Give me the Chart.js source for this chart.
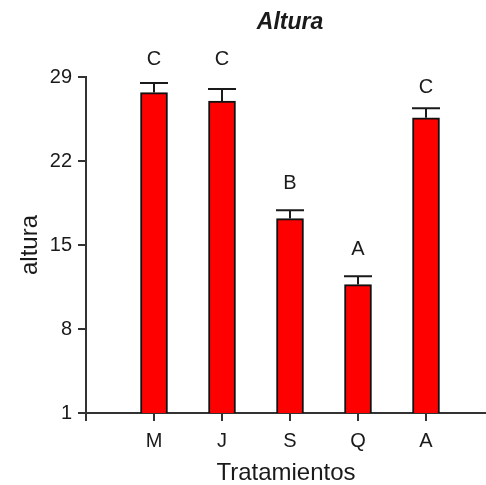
<!DOCTYPE html>
<html>
<head>
<meta charset="utf-8">
<script src="https://cdn.jsdelivr.net/npm/chart.js@4/dist/chart.umd.min.js"></script>
<style>
  body { margin: 0; background: #fff; }
  #wrap { width: 486px; height: 485px; }
</style>
</head>
<body>
<div id="wrap"><canvas id="chart" width="486" height="485"></canvas></div>
<script>
const categories = ['M', 'J', 'S', 'Q', 'A'];
const means = [27.7, 27.0, 17.2, 11.7, 25.6];
const errors = [0.8, 1.0, 0.7, 0.7, 0.8];
const groups = ['C', 'C', 'B', 'A', 'C'];
const groupLevels = [30.45, 30.45, 20.15, 14.65, 28.15];
const yTicks = [1, 8, 15, 22, 29];

const FONT = "'Liberation Sans', Arial, sans-serif";
const INK = '#1a1a1a';

// error bars, group letters and the title
const annotate = {
  id: 'annotate',
  afterDatasetsDraw(chart) {
    const { ctx, chartArea, scales: { x, y } } = chart;
    ctx.save();
    ctx.strokeStyle = INK;
    ctx.lineWidth = 2;
    ctx.fillStyle = INK;
    ctx.font = '20px ' + FONT;
    ctx.textAlign = 'center';
    ctx.textBaseline = 'middle';
    means.forEach((m, i) => {
      const px = x.getPixelForValue(i + 1);
      const top = y.getPixelForValue(m);
      const cap = y.getPixelForValue(m + errors[i]);
      ctx.beginPath();
      ctx.moveTo(px, top);
      ctx.lineTo(px, cap);
      ctx.moveTo(px - 14, cap);
      ctx.lineTo(px + 14, cap);
      ctx.stroke();
      ctx.fillText(groups[i], px, y.getPixelForValue(groupLevels[i]));
    });
    ctx.font = 'italic bold 23px ' + FONT;
    ctx.fillText('Altura', (chartArea.left + chartArea.right) / 2 + 4, 23);
    ctx.restore();
  }
};

const ctx = document.getElementById('chart').getContext('2d');
new Chart(ctx, {
  type: 'bar',
  data: {
    datasets: [{
      data: means.map((v, i) => ({ x: i + 1, y: v })),
      backgroundColor: '#ff0000',
      borderColor: '#111',
      borderWidth: 2,
      barThickness: 27
    }]
  },
  options: {
    responsive: false,
    animation: false,
    layout: { padding: { top: 77, right: 0, bottom: 0, left: 0 } },
    plugins: {
      legend: { display: false },
      tooltip: { enabled: false }
    },
    scales: {
      x: {
        type: 'linear',
        offset: false,
        min: 0,
        max: 400 / 68,
        afterBuildTicks: (scale) => {
          scale.ticks = [0, 1, 2, 3, 4, 5].map(v => ({ value: v }));
        },
        afterFit: (scale) => { scale.height = 72; },
        ticks: {
          autoSkip: false,
          maxRotation: 0,
          padding: 8,
          color: INK,
          font: { family: FONT, size: 20 },
          callback: (v) => (v >= 1 ? categories[v - 1] : '')
        },
        grid: { offset: false, drawOnChartArea: false, tickLength: 8, lineWidth: 2, color: '#333' },
        border: { color: '#333', width: 2 },
        title: {
          display: true,
          text: 'Tratamientos',
          color: INK,
          font: { family: FONT, size: 24, lineHeight: 1 },
          padding: { top: 0, bottom: 0 }
        }
      },
      y: {
        min: 1,
        max: 29,
        beginAtZero: false,
        afterBuildTicks: (scale) => {
          scale.ticks = yTicks.map(v => ({ value: v }));
        },
        afterFit: (scale) => { scale.width = 86; },
        ticks: {
          padding: 6,
          color: INK,
          font: { family: FONT, size: 20 }
        },
        grid: { drawOnChartArea: false, tickLength: 8, lineWidth: 2, color: '#333' },
        border: { color: '#333', width: 2 },
        title: {
          display: true,
          text: 'altura',
          color: INK,
          font: { family: FONT, size: 24, lineHeight: 1 },
          padding: { top: 18, bottom: 0 }
        }
      }
    }
  },
  plugins: [annotate]
});
</script>
</body>
</html>
